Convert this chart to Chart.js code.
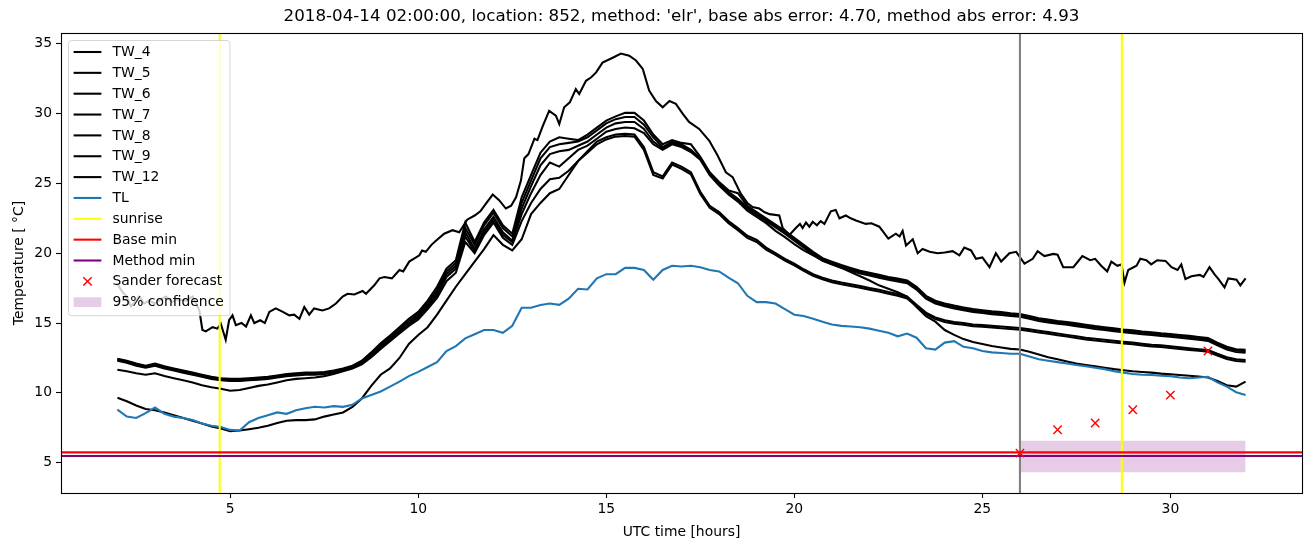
<!DOCTYPE html>
<html>
<head>
<meta charset="utf-8">
<script src="https://cdn.jsdelivr.net/npm/chart.js@4.4.0/dist/chart.umd.min.js"></script>
<style>
  html, body { margin: 0; padding: 0; background: #ffffff; }
  #wrap { width: 1310px; height: 547px; }
</style>
</head>
<body>
<div id="wrap"><canvas id="myChart" width="1310" height="547"></canvas></div>
<script>
const chartTitle = "2018-04-14 02:00:00, location: 852, method: 'elr', base abs error: 4.70, method abs error: 4.93";

// axis limits and ticks
const xLimits = [0.5, 33.5];
const yLimits = [2.83, 35.77];
const xTickValues = [5, 10, 15, 20, 25, 30];
const yTickValues = [5, 10, 15, 20, 25, 30, 35];

// 15 minute grid shared by the smooth tower sensors and TL
const hours = [
    2, 2.25, 2.5, 2.75, 3, 3.25, 3.5, 3.75,
    4, 4.25, 4.5, 4.75, 5, 5.25, 5.5, 5.75,
    6, 6.25, 6.5, 6.75, 7, 7.25, 7.5, 7.75,
    8, 8.25, 8.5, 8.75, 9, 9.25, 9.5, 9.75,
    10, 10.25, 10.5, 10.75, 11, 11.25, 11.5, 11.75,
    12, 12.25, 12.5, 12.75, 13, 13.25, 13.5, 13.75,
    14, 14.25, 14.5, 14.75, 15, 15.25, 15.5, 15.75,
    16, 16.25, 16.5, 16.75, 17, 17.25, 17.5, 17.75,
    18, 18.25, 18.5, 18.75, 19, 19.25, 19.5, 19.75,
    20, 20.25, 20.5, 20.75, 21, 21.25, 21.5, 21.75,
    22, 22.25, 22.5, 22.75, 23, 23.25, 23.5, 23.75,
    24, 24.25, 24.5, 24.75, 25, 25.25, 25.5, 25.75,
    26, 26.25, 26.5, 26.75, 27, 27.25, 27.5, 27.75,
    28, 28.25, 28.5, 28.75, 29, 29.25, 29.5, 29.75,
    30, 30.25, 30.5, 30.75, 31, 31.25, 31.5, 31.75,
    32
];

const tw4 = [
    12.45, 12.30, 12.10, 11.95, 12.10, 11.90, 11.75, 11.60,
    11.45, 11.30, 11.15, 11.05, 11.00, 11.00, 11.05, 11.10,
    11.15, 11.25, 11.35, 11.40, 11.45, 11.45, 11.50, 11.60,
    11.75, 11.95, 12.30, 12.90, 13.55, 14.10, 14.70, 15.30,
    15.80, 16.60, 17.60, 18.90, 19.50, 22.20, 20.80, 22.20,
    23.10, 22.00, 21.40, 24.00, 25.60, 27.20, 28.00, 28.30,
    28.20, 28.10, 28.50, 29.00, 29.50, 29.80, 30.05, 30.05,
    29.50, 28.50, 27.80, 28.10, 27.90, 27.80, 26.90, 25.80,
    25.10, 24.50, 24.30, 23.40, 22.95, 22.50, 22.05, 21.60,
    21.10, 20.60, 20.10, 19.65, 19.40, 19.15, 18.95, 18.75,
    18.60, 18.45, 18.30, 18.18, 18.05, 17.60, 16.95, 16.60,
    16.40, 16.25, 16.12, 16.00, 15.92, 15.84, 15.78, 15.70,
    15.65, 15.50, 15.35, 15.25, 15.15, 15.08, 14.98, 14.88,
    14.78, 14.70, 14.62, 14.54, 14.48, 14.40, 14.34, 14.27,
    14.22, 14.15, 14.08, 14.00, 13.92, 13.60, 13.30, 13.13,
    13.08
];

const tw5 = [
    12.40, 12.25, 12.05, 11.90, 12.05, 11.85, 11.70, 11.55,
    11.40, 11.25, 11.10, 11.00, 10.95, 10.95, 11.00, 11.05,
    11.10, 11.20, 11.30, 11.35, 11.40, 11.40, 11.45, 11.55,
    11.70, 11.90, 12.25, 12.80, 13.40, 14.00, 14.60, 15.15,
    15.65, 16.45, 17.40, 18.70, 19.30, 21.80, 20.60, 22.00,
    22.90, 21.80, 21.20, 23.60, 25.20, 26.80, 27.60, 27.80,
    27.90, 28.00, 28.30, 28.80, 29.30, 29.60, 29.75, 29.75,
    29.20, 28.30, 27.60, 28.00, 27.80, 27.40, 26.80, 25.75,
    25.00, 24.40, 23.90, 23.30, 22.85, 22.40, 21.95, 21.50,
    21.00, 20.50, 20.00, 19.55, 19.30, 19.05, 18.85, 18.65,
    18.50, 18.35, 18.20, 18.08, 17.95, 17.50, 16.85, 16.50,
    16.30, 16.15, 16.02, 15.90, 15.82, 15.74, 15.68, 15.60,
    15.55, 15.40, 15.25, 15.15, 15.05, 14.98, 14.88, 14.78,
    14.68, 14.60, 14.52, 14.44, 14.38, 14.30, 14.24, 14.17,
    14.12, 14.05, 13.98, 13.90, 13.82, 13.50, 13.20, 13.03,
    12.98
];

const tw6 = [
    12.35, 12.20, 12.00, 11.85, 12.00, 11.80, 11.65, 11.50,
    11.35, 11.20, 11.05, 10.95, 10.90, 10.90, 10.95, 11.00,
    11.05, 11.15, 11.25, 11.30, 11.35, 11.35, 11.40, 11.50,
    11.65, 11.85, 12.15, 12.70, 13.30, 13.90, 14.45, 15.00,
    15.50, 16.30, 17.20, 18.50, 19.10, 21.50, 20.30, 21.70,
    22.60, 21.50, 20.90, 23.20, 24.80, 26.30, 27.10, 27.30,
    27.40, 27.70, 28.00, 28.50, 29.00, 29.30, 29.40, 29.40,
    28.90, 28.00, 27.50, 27.90, 27.70, 27.30, 26.75, 25.70,
    24.95, 24.30, 23.80, 23.20, 22.75, 22.30, 21.85, 21.40,
    20.90, 20.40, 19.90, 19.45, 19.20, 18.95, 18.75, 18.55,
    18.40, 18.25, 18.10, 17.98, 17.85, 17.40, 16.75, 16.40,
    16.20, 16.05, 15.92, 15.80, 15.72, 15.64, 15.58, 15.50,
    15.45, 15.30, 15.15, 15.05, 14.95, 14.88, 14.78, 14.68,
    14.58, 14.50, 14.42, 14.34, 14.28, 14.20, 14.14, 14.07,
    14.02, 13.95, 13.88, 13.80, 13.72, 13.40, 13.10, 12.93,
    12.88
];

const tw7 = [
    12.30, 12.15, 11.95, 11.80, 11.95, 11.75, 11.60, 11.45,
    11.30, 11.15, 11.00, 10.90, 10.85, 10.85, 10.90, 10.95,
    11.00, 11.10, 11.20, 11.25, 11.30, 11.30, 11.35, 11.45,
    11.60, 11.80, 12.10, 12.60, 13.20, 13.80, 14.35, 14.90,
    15.40, 16.15, 17.00, 18.30, 18.90, 21.20, 20.10, 21.50,
    22.40, 21.30, 20.80, 22.80, 24.30, 25.60, 26.50, 26.20,
    26.80, 27.40, 27.70, 28.20, 28.70, 28.90, 29.00, 28.95,
    28.60, 27.80, 27.40, 27.80, 27.60, 27.25, 26.70, 25.60,
    24.85, 24.20, 23.70, 23.05, 22.60, 22.15, 21.60, 21.15,
    20.65, 20.20, 19.85, 19.50, 19.20, 18.95, 18.65, 18.35,
    18.05, 17.70, 17.45, 17.20, 16.90, 16.15, 15.50, 15.10,
    14.50, 14.15, 13.85, 13.65, 13.50, 13.35, 13.25, 13.15,
    13.10, 12.95, 12.75, 12.55, 12.40, 12.25, 12.10, 12.00,
    11.90, 11.80, 11.70, 11.62, 11.55, 11.50, 11.45, 11.38,
    11.33, 11.28, 11.22, 11.17, 11.10, 10.85, 10.55, 10.45,
    10.80
];

const tw8 = [
    11.65, 11.55, 11.40, 11.30, 11.40, 11.20, 11.05, 10.90,
    10.75, 10.55, 10.40, 10.30, 10.15, 10.20, 10.35, 10.50,
    10.60, 10.75, 10.90, 11.00, 11.05, 11.10, 11.20, 11.35,
    11.55, 11.75, 12.05, 12.55, 13.15, 13.70, 14.25, 14.80,
    15.25, 16.00, 16.80, 18.00, 18.60, 20.80, 20.00, 21.30,
    22.20, 21.10, 20.60, 22.30, 23.60, 24.60, 25.30, 25.40,
    25.90, 26.60, 27.30, 28.00, 28.30, 28.50, 28.55, 28.50,
    27.60, 25.80, 25.50, 26.50, 26.20, 25.80, 24.40, 23.40,
    22.95, 22.30, 21.80, 21.25, 20.95, 20.40, 20.00, 19.60,
    19.25, 18.85, 18.50, 18.25, 18.05, 17.90, 17.78, 17.65,
    17.50, 17.38, 17.22, 17.08, 16.88, 16.30, 15.75, 15.40,
    15.20, 15.08, 15.00, 14.90, 14.85, 14.80, 14.75, 14.70,
    14.65, 14.55, 14.45, 14.35, 14.25, 14.15, 14.05, 13.95,
    13.87, 13.80, 13.73, 13.66, 13.60, 13.52, 13.45, 13.40,
    13.34, 13.27, 13.20, 13.13, 13.07, 12.80, 12.55, 12.40,
    12.36
];

const tw9 = [
    9.65, 9.40, 9.10, 8.85, 8.75, 8.60, 8.40, 8.20,
    8.00, 7.80, 7.60, 7.45, 7.25, 7.30, 7.40, 7.50,
    7.65, 7.85, 8.00, 8.05, 8.05, 8.10, 8.30, 8.45,
    8.60, 9.00, 9.60, 10.50, 11.30, 11.75, 12.50, 13.50,
    14.15, 14.70, 15.60, 16.60, 17.60, 18.50, 19.40, 20.30,
    21.30, 20.60, 20.20, 21.00, 22.80, 23.60, 24.30, 24.60,
    25.60, 26.60, 27.20, 27.80, 28.15, 28.35, 28.40, 28.35,
    27.40, 25.60, 25.35, 26.35, 26.05, 25.65, 24.25, 23.25,
    22.80, 22.15, 21.65, 21.10, 20.80, 20.25, 19.88, 19.48,
    19.13, 18.73, 18.38, 18.13, 17.93, 17.78, 17.66, 17.53,
    17.38, 17.26, 17.10, 16.96, 16.76, 16.18, 15.63, 15.28,
    15.08, 14.96, 14.88, 14.78, 14.73, 14.68, 14.63, 14.58,
    14.53, 14.43, 14.33, 14.23, 14.13, 14.03, 13.93, 13.83,
    13.75, 13.68, 13.61, 13.54, 13.48, 13.40, 13.33, 13.28,
    13.22, 13.15, 13.08, 13.01, 12.95, 12.68, 12.43, 12.28,
    12.24
];

// the noisy sensor, read at its own irregular times
const noisyHours = [
    2.0, 2.14, 2.25, 2.36, 2.5, 2.58, 2.71, 2.85, 3.0, 3.15, 3.29, 3.45, 3.6, 3.82, 4.0, 4.18,
    4.26, 4.35, 4.53, 4.66, 4.75, 4.88, 4.97, 5.06, 5.15, 5.3, 5.42, 5.55, 5.64, 5.8, 5.92, 6.04,
    6.21, 6.4, 6.57, 6.7, 6.84, 6.97, 7.1, 7.23, 7.45, 7.63, 7.81, 7.99, 8.12, 8.3, 8.52, 8.61,
    8.83, 8.97, 9.1, 9.3, 9.5, 9.6, 9.76, 10.03, 10.1, 10.2, 10.35, 10.47, 10.69, 10.91, 11.09, 11.3,
    11.5, 11.65, 11.8, 11.98, 12.15, 12.33, 12.47, 12.6, 12.73, 12.82, 12.93, 13.09, 13.17, 13.31, 13.48, 13.66,
    13.75, 13.88, 14.03, 14.19, 14.28, 14.46, 14.6, 14.73, 14.9, 15.17, 15.39, 15.61, 15.79, 15.97, 16.14, 16.32,
    16.5, 16.68, 16.85, 17.03, 17.2, 17.47, 17.74, 17.96, 18.18, 18.36, 18.58, 18.75, 18.89, 19.07, 19.2, 19.34,
    19.6, 19.69, 19.87, 20.04, 20.15, 20.22, 20.31, 20.4, 20.49, 20.6, 20.7, 20.8, 20.97, 21.1, 21.2, 21.37,
    21.5, 21.64, 21.9, 22.05, 22.26, 22.5, 22.7, 22.8, 22.88, 22.97, 23.15, 23.28, 23.41, 23.6, 23.81, 24.0,
    24.21, 24.39, 24.52, 24.7, 24.83, 25.0, 25.19, 25.36, 25.5, 25.72, 25.9, 26.12, 26.34, 26.47, 26.65, 26.89,
    27.0, 27.15, 27.42, 27.66, 27.87, 28.0, 28.16, 28.32, 28.43, 28.59, 28.7, 28.78, 28.88, 29.1, 29.2, 29.36,
    29.49, 29.65, 29.87, 30.03, 30.19, 30.29, 30.4, 30.56, 30.78, 30.88, 31.04, 31.17, 31.28, 31.44, 31.54, 31.76,
    31.86, 32.0
];

const tw12 = [
    17.8, 17.2, 16.9, 16.2, 16.6, 16.9, 16.4, 16.6, 16.4, 16.7, 16.9, 16.5, 16.7, 16.6, 16.9, 15.9,
    14.5, 14.4, 14.7, 14.6, 14.95, 13.8, 15.2, 15.55, 14.85, 15.0, 14.75, 15.55, 15.0, 15.2, 15.0, 15.8,
    16.05, 15.8, 15.55, 15.6, 15.3, 16.15, 15.6, 16.05, 15.9, 16.05, 16.4, 16.9, 17.1, 17.05, 17.3, 17.1,
    17.7, 18.2, 18.3, 18.2, 18.8, 18.7, 19.4, 19.85, 20.2, 20.1, 20.6, 20.9, 21.4, 21.65, 21.5, 22.4,
    22.7, 23.0, 23.55, 24.2, 23.8, 23.2, 23.4, 24.0, 25.2, 26.8, 27.1, 28.2, 28.1, 29.1, 30.2, 29.85,
    29.25, 30.45, 30.8, 31.75, 31.4, 32.35, 32.6, 32.95, 33.65, 34.0, 34.3, 34.15, 33.8, 33.2, 31.65, 30.9,
    30.45, 30.9, 30.7, 30.0, 29.4, 28.9, 28.05, 27.0, 25.8, 25.45, 24.25, 23.6, 23.3, 23.2, 22.95, 22.8,
    22.7, 21.8, 21.3, 21.8, 22.1, 21.8, 22.2, 21.9, 22.25, 22.0, 22.3, 22.1, 23.0, 23.1, 22.5, 22.7,
    22.5, 22.35, 22.1, 22.15, 21.9, 21.05, 21.4, 21.2, 21.6, 20.55, 21.0, 20.0, 20.3, 20.1, 20.0, 20.05,
    20.15, 19.85, 20.4, 20.2, 19.6, 19.7, 19.0, 20.0, 19.4, 20.0, 20.1, 19.25, 19.6, 20.15, 19.8, 19.95,
    19.9, 19.0, 19.0, 19.8, 19.5, 19.6, 19.1, 18.7, 19.4, 19.1, 19.2, 17.9, 18.8, 19.1, 19.6, 19.5,
    19.2, 19.5, 19.45, 19.0, 18.8, 19.2, 18.15, 18.35, 18.45, 18.3, 19.0, 18.5, 18.15, 17.55, 18.2, 18.1,
    17.7, 18.2
];

const tl = [
    8.80, 8.30, 8.20, 8.55, 8.95, 8.50, 8.30, 8.20,
    8.05, 7.80, 7.65, 7.55, 7.35, 7.30, 7.90, 8.20,
    8.40, 8.60, 8.50, 8.75, 8.90, 9.00, 8.95, 9.05,
    9.00, 9.15, 9.60, 9.85, 10.10, 10.45, 10.80, 11.20,
    11.50, 11.85, 12.20, 13.00, 13.35, 13.90, 14.20, 14.50,
    14.50, 14.30, 14.80, 16.10, 16.10, 16.30, 16.40, 16.30,
    16.75, 17.45, 17.40, 18.20, 18.50, 18.50, 18.95, 18.95,
    18.80, 18.10, 18.80, 19.10, 19.05, 19.10, 19.00, 18.80,
    18.70, 18.25, 17.85, 16.95, 16.50, 16.50, 16.40, 16.00,
    15.60, 15.50, 15.30, 15.10, 14.90, 14.80, 14.75, 14.70,
    14.60, 14.45, 14.30, 14.05, 14.25, 13.95, 13.20, 13.10,
    13.60, 13.70, 13.30, 13.20, 13.00, 12.90, 12.85, 12.80,
    12.80, 12.60, 12.40, 12.30, 12.20, 12.10, 12.00, 11.90,
    11.80, 11.70, 11.55, 11.45, 11.35, 11.30, 11.28, 11.23,
    11.20, 11.10, 11.05, 11.10, 11.15, 10.75, 10.45, 10.05,
    9.85
];

// reference lines, forecast markers and the confidence band
const sunriseHours = [4.72, 28.71];
const forecastStart = 26;
const baseMin = 5.74;
const methodMin = 5.48;
const forecastHours = [26, 27, 28, 29, 30, 31];
const forecastTemps = [5.69, 7.36, 7.84, 8.79, 9.84, 13.0];
const confidenceHours = [26, 32];
const confidenceLow = [4.31, 4.31];
const confidenceHigh = [6.57, 6.57];

const FONT = '"DejaVu Sans", sans-serif';
const LW = 2.08;

const toPoints = (xs, ys) => xs.map((x, i) => ({ x, y: ys[i] }));
const vLine = (x) => [{ x, y: yLimits[0] }, { x, y: yLimits[1] }];
const hLine = (y) => [{ x: xLimits[0], y }, { x: xLimits[1], y }];

const lineSet = (label, data, color, order, legend) => ({
    label,
    data,
    borderColor: color,
    backgroundColor: color,
    borderWidth: LW,
    pointRadius: 0,
    tension: 0,
    fill: false,
    order,
    legend
});

const datasets = [
    lineSet("TW_4", toPoints(hours, tw4), "#000000", 20, "line"),
    lineSet("TW_5", toPoints(hours, tw5), "#000000", 19, "line"),
    lineSet("TW_6", toPoints(hours, tw6), "#000000", 18, "line"),
    lineSet("TW_7", toPoints(hours, tw7), "#000000", 17, "line"),
    lineSet("TW_8", toPoints(hours, tw8), "#000000", 16, "line"),
    lineSet("TW_9", toPoints(hours, tw9), "#000000", 15, "line"),
    lineSet("TW_12", toPoints(noisyHours, tw12), "#000000", 14, "line"),
    lineSet("TL", toPoints(hours, tl), "#1f77b4", 13, "line"),
    lineSet("sunrise", vLine(sunriseHours[0]), "#ffff00", 12, "line"),
    lineSet("", vLine(sunriseHours[1]), "#ffff00", 11, null),
    lineSet("", vLine(forecastStart), "#808080", 10, null),
    lineSet("Base min", hLine(baseMin), "#ff0000", 9, "line"),
    lineSet("Method min", hLine(methodMin), "#800080", 8, "line"),
    {
        label: "Sander forecast",
        data: toPoints(forecastHours, forecastTemps),
        showLine: false,
        pointStyle: "crossRot",
        pointRadius: 5.9,
        pointBorderWidth: 1.4,
        borderColor: "#ff0000",
        backgroundColor: "#ff0000",
        order: 7,
        legend: "marker"
    },
    {
        label: "",
        data: toPoints(confidenceHours, confidenceHigh),
        borderWidth: 0,
        pointRadius: 0,
        fill: false,
        order: 31,
        legend: null
    },
    {
        label: "95% confidence",
        data: toPoints(confidenceHours, confidenceLow),
        borderWidth: 0,
        pointRadius: 0,
        fill: "-1",
        backgroundColor: "rgba(128, 0, 128, 0.2)",
        order: 30,
        legend: "patch"
    }
];

// title, axes frame and a matplotlib style legend
const decorations = {
    id: "decorations",
    afterDatasetsDraw(chart) {
        const ctx = chart.ctx;
        const area = chart.chartArea;
        const items = chart.data.datasets.filter(d => d.legend);
        const fs = 13.9;
        const rowH = 20.85;
        const x0 = Math.round(area.left) + 7;
        const y0 = Math.round(area.top) + 7;

        ctx.save();
        ctx.font = `${fs}px ${FONT}`;
        const textW = Math.max(...items.map(d => ctx.measureText(d.label).width));
        const w = 5.6 + 27.8 + 11.1 + textW + 5.6;
        const h = 25 + rowH * (items.length - 1);

        ctx.beginPath();
        ctx.roundRect(x0 + 0.5, y0 + 0.5, w, h, 3);
        ctx.fillStyle = "rgba(255, 255, 255, 0.8)";
        ctx.fill();
        ctx.strokeStyle = "rgba(204, 204, 204, 0.8)";
        ctx.lineWidth = 1;
        ctx.stroke();

        items.forEach((d, k) => {
            const cy = y0 + 12 + rowH * k;
            const hx = x0 + 5.6;
            if (d.legend === "line") {
                ctx.beginPath();
                ctx.moveTo(hx, cy);
                ctx.lineTo(hx + 27.8, cy);
                ctx.strokeStyle = d.borderColor;
                ctx.lineWidth = LW;
                ctx.stroke();
            } else if (d.legend === "marker") {
                const cx = hx + 13.9;
                ctx.beginPath();
                ctx.moveTo(cx - 4.2, cy - 4.2);
                ctx.lineTo(cx + 4.2, cy + 4.2);
                ctx.moveTo(cx - 4.2, cy + 4.2);
                ctx.lineTo(cx + 4.2, cy - 4.2);
                ctx.strokeStyle = d.borderColor;
                ctx.lineWidth = 1.4;
                ctx.stroke();
            } else {
                ctx.fillStyle = d.backgroundColor;
                ctx.fillRect(hx, cy - 4.9, 27.8, 9.7);
            }
            ctx.fillStyle = "#000000";
            ctx.textBaseline = "middle";
            ctx.textAlign = "left";
            ctx.fillText(d.label, x0 + 44.5, cy + 0.5);
        });
        ctx.restore();
    },
    afterDraw(chart) {
        const ctx = chart.ctx;
        const area = chart.chartArea;
        ctx.save();
        ctx.strokeStyle = "#000000";
        ctx.lineWidth = 1.1;
        ctx.strokeRect(Math.round(area.left) + 0.5, Math.round(area.top) + 0.5,
            Math.round(area.right - area.left), Math.round(area.bottom - area.top));
        ctx.font = `16.7px ${FONT}`;
        ctx.fillStyle = "#000000";
        ctx.textAlign = "center";
        ctx.textBaseline = "middle";
        ctx.fillText(chartTitle, (area.left + area.right) / 2, 17);
        ctx.restore();
    }
};

const tickFont = { family: FONT, size: 13.9 };

new Chart(document.querySelector("#myChart"), {
    type: "line",
    data: { datasets },
    options: {
        responsive: false,
        animation: false,
        devicePixelRatio: 1,
        layout: { padding: { top: 33, right: 8, left: 0, bottom: 0 } },
        plugins: {
            legend: { display: false },
            tooltip: { enabled: false },
            title: { display: false }
        },
        scales: {
            x: {
                type: "linear",
                min: xLimits[0],
                max: xLimits[1],
                afterBuildTicks: (scale) => {
                    scale.ticks = xTickValues.map(value => ({ value }));
                },
                afterFit: (scale) => { scale.height = 54; },
                grid: { drawOnChartArea: false, tickLength: 5, tickColor: "#000000", tickWidth: 1.1 },
                border: { display: false },
                ticks: { color: "#000000", font: tickFont, padding: 3, maxRotation: 0 },
                title: {
                    display: true,
                    text: "UTC time [hours]",
                    color: "#000000",
                    font: tickFont,
                    padding: { top: 0, bottom: 6 }
                }
            },
            y: {
                type: "linear",
                min: yLimits[0],
                max: yLimits[1],
                afterBuildTicks: (scale) => {
                    scale.ticks = yTickValues.map(value => ({ value }));
                },
                afterFit: (scale) => { scale.width = 61; },
                grid: { drawOnChartArea: false, tickLength: 5, tickColor: "#000000", tickWidth: 1.1 },
                border: { display: false },
                ticks: { color: "#000000", font: tickFont, padding: 4 },
                title: {
                    display: true,
                    text: "Temperature [ °C]",
                    color: "#000000",
                    font: tickFont,
                    padding: { top: 11, bottom: 0 }
                }
            }
        }
    },
    plugins: [decorations]
});
</script>
</body>
</html>
